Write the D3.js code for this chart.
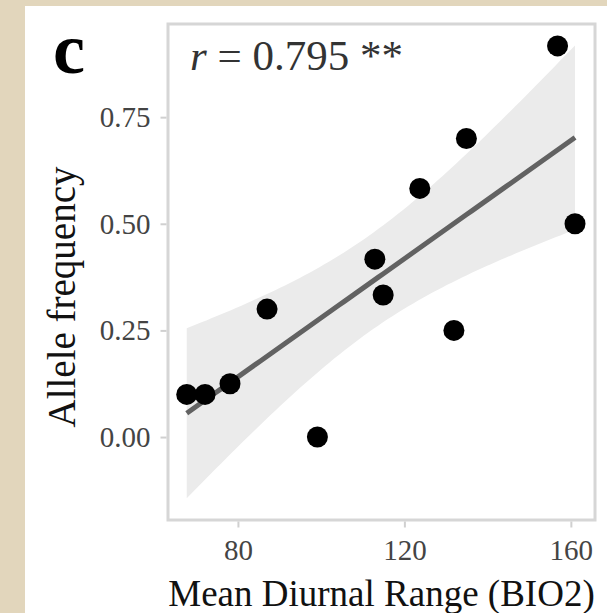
<!DOCTYPE html>
<html>
<head>
<meta charset="utf-8">
<script src="https://cdn.jsdelivr.net/npm/d3@7"></script>
<style>
  html, body { margin: 0; padding: 0; background: #e2d6bc; }
  svg { display: block; }
</style>
</head>
<body>
<svg id="chart" width="607" height="613"></svg>
<script>
// Data
const bio2 = [67.7, 72.1, 78.1, 87.0, 99.1, 112.9, 114.9, 123.7, 131.9, 134.9, 156.8, 161.0];
const alleleFreq = [0.1, 0.1, 0.125, 0.3, 0.0, 0.417, 0.333, 0.583, 0.25, 0.7, 0.917, 0.5];
const xTicks = [80, 120, 160];
const yTicks = [0.00, 0.25, 0.50, 0.75];
const rLabel = "0.795 **";

const serif = "Liberation Serif, Times New Roman, serif";
const svg = d3.select("#chart");
svg.append("rect").attr("x", 0).attr("y", 0).attr("width", 607).attr("height", 613).attr("fill", "#e2d6bc");
svg.append("rect").attr("x", 25).attr("y", 6).attr("width", 582).attr("height", 607).attr("fill", "#ffffff");

const L = 168, R = 595, T = 24, B = 520;
const x = d3.scaleLinear().domain([63.2, 165.8]).range([L, R]);
const y = d3.scaleLinear().domain([-0.1945, 0.9684]).range([B, T]);

// Linear fit with 95% confidence band (as geom_smooth(method = "lm"))
const n = bio2.length;
const mx = d3.mean(bio2), my = d3.mean(alleleFreq);
let sxx = 0, sxy = 0;
for (let i = 0; i < n; i++) { sxx += (bio2[i]-mx)**2; sxy += (bio2[i]-mx)*(alleleFreq[i]-my); }
const slope = sxy / sxx, icpt = my - slope * mx;
let sse = 0;
for (let i = 0; i < n; i++) { sse += (alleleFreq[i] - (icpt + slope*bio2[i]))**2; }
const s = Math.sqrt(sse / (n - 2));
const tCrit = 2.228;
const [x0, x1] = d3.extent(bio2);
const fit = d3.range(80).map(k => {
  const xv = x0 + (x1 - x0) * k / 79;
  const yh = icpt + slope * xv;
  const se = s * Math.sqrt(1/n + (xv - mx)**2 / sxx);
  return { x: xv, y: yh, lo: yh - tCrit*se, hi: yh + tCrit*se };
});

const g = svg.append("g");
g.append("path").datum(fit)
  .attr("d", d3.area().x(d => x(d.x)).y0(d => y(d.lo)).y1(d => y(d.hi)))
  .attr("fill", "#ebebeb");
g.append("path").datum(fit)
  .attr("d", d3.line().x(d => x(d.x)).y(d => y(d.y)))
  .attr("fill", "none").attr("stroke", "#626262").attr("stroke-width", 5);

g.selectAll("circle").data(bio2.map((v, i) => [v, alleleFreq[i]])).enter()
  .append("circle")
  .attr("cx", d => x(d[0])).attr("cy", d => y(d[1])).attr("r", 10.5)
  .attr("fill", "#000");

// Panel border
svg.append("rect").attr("x", L).attr("y", T).attr("width", R - L).attr("height", B - T)
  .attr("fill", "none").attr("stroke", "#d6d6d6").attr("stroke-width", 3);

// Axes
const xAxis = d3.axisBottom(x).tickValues(xTicks).tickSize(6).tickPadding(12).tickFormat(d3.format("d"));
const xg = svg.append("g").attr("transform", `translate(0,${B + 1.5})`).call(xAxis);
xg.select(".domain").remove();
xg.selectAll(".tick line").attr("stroke", "#d0d0d0").attr("stroke-width", 2);
xg.selectAll(".tick text").attr("font-family", serif)
  .attr("font-size", 29).attr("fill", "#444");

const yAxis = d3.axisLeft(y).tickValues(yTicks).tickSize(6).tickPadding(10).tickFormat(d3.format(".2f"));
const yg = svg.append("g").attr("transform", `translate(${L - 1.5},0)`).call(yAxis);
yg.select(".domain").remove();
yg.selectAll(".tick line").attr("stroke", "#d0d0d0").attr("stroke-width", 2);
yg.selectAll(".tick text").attr("font-family", serif)
  .attr("font-size", 29).attr("fill", "#444");

// Axis titles
svg.append("text").attr("x", (L + R) / 2).attr("y", 606).attr("text-anchor", "middle")
  .attr("font-family", serif).attr("font-size", 37)
  .attr("fill", "#111").text("Mean Diurnal Range (BIO2)");
svg.append("text").attr("transform", "translate(75,297) rotate(-90)").attr("text-anchor", "middle")
  .attr("font-family", serif).attr("font-size", 39)
  .attr("fill", "#111").text("Allele frequency");

// Panel tag
svg.append("text").attr("x", 53).attr("y", 73)
  .attr("font-family", serif).attr("font-weight", "bold")
  .attr("font-size", 72).attr("fill", "#000").text("c");

// Correlation label
const rt = svg.append("text").attr("x", 190).attr("y", 70)
  .attr("font-family", serif).attr("font-size", 43).attr("fill", "#333");
rt.append("tspan").attr("font-style", "italic").text("r");
rt.append("tspan").text(" = " + rLabel);
</script>
</body>
</html>
